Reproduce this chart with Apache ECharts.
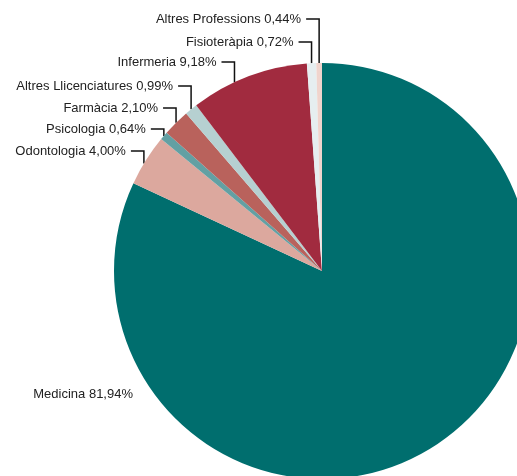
<!DOCTYPE html>
<html>
<head>
<meta charset="utf-8">
<script src="https://cdn.jsdelivr.net/npm/echarts@6/dist/echarts.min.js"></script>
<style>
html, body { margin: 0; padding: 0; background: #fff; }
#container { width: 517px; height: 476px; }
</style>
</head>
<body>
<div id="container"></div>
<script>
// dades (percentatges)
var categories = ['Medicina', 'Odontologia', 'Psicologia', 'Farmàcia', 'Altres Llicenciatures', 'Infermeria', 'Fisioteràpia', 'Altres Professions'];
var values = [81.94, 4.00, 0.64, 2.10, 0.99, 9.18, 0.72, 0.44];
var colors = ['#006e6e', '#dca89e', '#63a0a3', '#b9625c', '#b6d0d1', '#a12b3f', '#e6eef0', '#f0d4cd'];

// posicio de les etiquetes (y del text), la de Medicina va sense línia
var labelY = [394, 151, 129, 108, 86, 62, 42, 19];
var labelDx = [0, -2, 0, 0, 0, -14, 0, 0];
var medicinaX = 133;

var cx = 322, cy = 271, r = 208;
var total = values.reduce(function (a, b) { return a + b; }, 0);

// punt d'ancoratge: mig de cada porció sobre la vora
function anchor(i) {
    var before = 0;
    for (var k = 0; k < i; k++) before += values[k];
    var ang = (before + values[i] / 2) / total * Math.PI * 2;
    var x = cx + r * Math.sin(ang) + labelDx[i];
    var dx = x - cx;
    return [x, cy - Math.sqrt(r * r - dx * dx)];
}

var data = categories.map(function (name, i) {
    return {
        name: name,
        value: values[i],
        itemStyle: { color: colors[i] },
        labelLine: { show: i !== 0 }
    };
});

var myChart = echarts.init(document.getElementById('container'));
var option = {
    animation: false,
    backgroundColor: '#fff',
    series: [
        {
            type: 'pie',
            center: [cx, cy],
            radius: r,
            startAngle: 90,
            clockwise: true,
            data: data,
            label: {
                show: true,
                position: 'outside',
                overflow: 'none',
                width: 300,
                fontFamily: 'Liberation Sans, Arial, sans-serif',
                fontSize: 13,
                color: '#222',
                formatter: function (p) {
                    return p.name + ' ' + p.value.toFixed(2).replace('.', ',') + '%';
                }
            },
            labelLine: {
                show: true,
                lineStyle: { color: '#111', width: 1.5 }
            },
            labelLayout: function (params) {
                var i = params.dataIndex;
                if (i === 0) {
                    return { x: medicinaX, y: labelY[0], align: 'right', verticalAlign: 'middle' };
                }
                var a = anchor(i);
                var ly = labelY[i];
                return {
                    x: a[0] - 18,
                    y: ly,
                    align: 'right',
                    verticalAlign: 'middle',
                    labelLinePoints: [[a[0], a[1]], [a[0], ly], [a[0] - 13, ly]]
                };
            }
        }
    ]
};
myChart.setOption(option);
</script>
</body>
</html>
